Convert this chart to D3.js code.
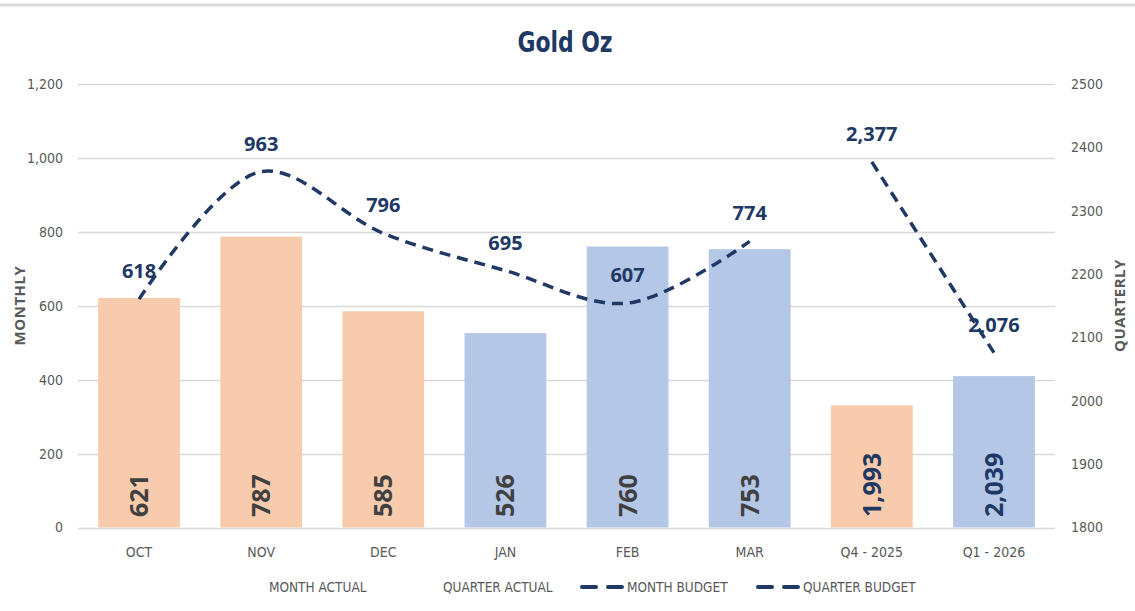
<!DOCTYPE html>
<html>
<head>
<meta charset="utf-8">
<script src="https://cdn.jsdelivr.net/npm/d3@7"></script>
<style>
  body { margin: 0; background: #fff; }
  svg { display: block; }
</style>
</head>
<body>
<div id="chart"></div>
<script>
const width = 1135
const height = 611
const margin = {top: 84, right: 80, bottom: 84, left: 78}

// data
const categories = ["OCT", "NOV", "DEC", "JAN", "FEB", "MAR", "Q4 - 2025", "Q1 - 2026"]
const quarterOf = ["Q4", "Q4", "Q4", "Q1", "Q1", "Q1", "Q4", "Q1"]
const monthActual = [621, 787, 585, 526, 760, 753]
const quarterActual = [1993, 2039]
const monthBudget = [618, 963, 796, 695, 607, 774]
const quarterBudget = [2377, 2076]
const leftTicks = [0, 200, 400, 600, 800, 1000, 1200]
const rightTicks = [1800, 1900, 2000, 2100, 2200, 2300, 2400, 2500]
const legendItems = ["MONTH ACTUAL", "QUARTER ACTUAL", "MONTH BUDGET", "QUARTER BUDGET"]

const navy = "#203864"
const axisGrey = "#595959"
const narrow = "'Liberation Sans Narrow', 'DejaVu Sans Condensed', sans-serif"

var svg = d3.select("#chart").append("svg")
	.attr("width", width)
	.attr("height", height)

// thin top border
svg.append("line")
	.attr("x1", 0).attr("x2", width)
	.attr("y1", 5).attr("y2", 5)
	.style("stroke", "#d9d9d9")
	.style("stroke-width", 3)

// title, squeezed a little to get the narrow look
svg.append("text")
	.attr("transform", "translate(565,52) scale(0.87,1)")
	.attr("text-anchor", "middle")
	.attr("font-family", narrow)
	.attr("font-weight", "bold")
	.attr("font-size", "28px")
	.attr("fill", navy)
	.text("Gold Oz")

var x = d3.scaleBand()
	.domain(categories)
	.range([margin.left, width - margin.right])
	.paddingInner(0.33)
	.paddingOuter(0.165)

var yLeft = d3.scaleLinear()
	.domain([0, 1200])
	.range([height - margin.bottom + 0.5, margin.top])

var yRight = d3.scaleLinear()
	.domain([1800, 2500])
	.range([height - margin.bottom + 0.5, margin.top])

var colour = d3.scaleOrdinal()
	.domain(["Q4", "Q1"])
	.range(["#f8cbad", "#b4c7e7"])

// gridlines from the left axis
svg.selectAll(".gridline")
	.data(leftTicks)
	.enter().append("line")
	.attr("class", "gridline")
	.attr("x1", margin.left)
	.attr("x2", width - margin.right)
	.attr("y1", d => Math.round(yLeft(d)) + 0.5)
	.attr("y2", d => Math.round(yLeft(d)) + 0.5)
	.style("stroke", "#d9d9d9")
	.style("stroke-width", "1.5px")

// axes
var leftAxis = svg.append("g")
	.attr("transform", `translate(${margin.left - 12},0)`)
	.call(d3.axisLeft(yLeft).tickValues(leftTicks).tickSize(0).tickFormat(d3.format(",")))
var rightAxis = svg.append("g")
	.attr("transform", `translate(${width - margin.right + 13},0)`)
	.call(d3.axisRight(yRight).tickValues(rightTicks).tickSize(0).tickFormat(d3.format("d")))
var bottomAxis = svg.append("g")
	.attr("transform", `translate(0,${height - margin.bottom + 17})`)
	.call(d3.axisBottom(x).tickSize(0))

;[leftAxis, rightAxis, bottomAxis].forEach(g => {
	g.select(".domain").remove()
	g.selectAll("text")
		.attr("font-family", narrow)
		.attr("font-size", "14px")
		.attr("fill", axisGrey)
})

svg.append("text")
	.attr("transform", `translate(25,${(margin.top + height - margin.bottom) / 2}) rotate(-90)`)
	.attr("text-anchor", "middle")
	.attr("font-family", "'Open Sans', sans-serif")
	.attr("font-weight", "bold")
	.attr("font-size", "15px")
	.attr("letter-spacing", "0.5px")
	.attr("fill", axisGrey)
	.text("MONTHLY")

svg.append("text")
	.attr("transform", `translate(1125,${(margin.top + height - margin.bottom) / 2}) rotate(-90)`)
	.attr("text-anchor", "middle")
	.attr("font-family", "'Open Sans', sans-serif")
	.attr("font-weight", "bold")
	.attr("font-size", "15px")
	.attr("letter-spacing", "0.5px")
	.attr("fill", axisGrey)
	.text("QUARTERLY")

// bars: months on the left scale, quarters on the right scale
var bars = monthActual.map((v, i) => ({cat: categories[i], q: quarterOf[i], v: v, y: yLeft, kind: "m"}))
	.concat(quarterActual.map((v, i) => ({cat: categories[6 + i], q: quarterOf[6 + i], v: v, y: yRight, kind: "q"})))

svg.selectAll(".bar")
	.data(bars)
	.enter().append("rect")
	.attr("class", "bar")
	.attr("x", d => x(d.cat))
	.attr("width", x.bandwidth())
	.attr("y", d => d.y(d.v))
	.attr("height", d => d.y.range()[0] - d.y(d.v))
	.style("fill", d => colour(d.q))

svg.selectAll(".barlabel")
	.data(bars)
	.enter().append("text")
	.attr("class", "barlabel")
	.attr("transform", d => `translate(${x(d.cat) + x.bandwidth() / 2 + 9},${height - margin.bottom - 10}) rotate(-90)`)
	.attr("text-anchor", "start")
	.attr("font-family", "'Open Sans', sans-serif")
	.attr("font-weight", "bold")
	.attr("font-size", "25px")
	.attr("fill", d => d.kind == "m" ? "#404040" : navy)
	.text(d => d3.format(",")(d.v))

// budget lines
var monthPts = monthBudget.map((v, i) => [x(categories[i]) + x.bandwidth() / 2, yLeft(v), v])
var quarterPts = quarterBudget.map((v, i) => [x(categories[6 + i]) + x.bandwidth() / 2, yRight(v), v])

var lineLabel = function(pts, cls) {
	svg.selectAll("." + cls)
		.data(pts)
		.enter().append("text")
		.attr("class", cls)
		.attr("x", d => d[0])
		.attr("y", d => d[1] - 21)
		.attr("text-anchor", "middle")
		.attr("font-family", "'Open Sans', sans-serif")
		.attr("font-weight", "bold")
		.attr("font-size", "20px")
		.attr("fill", navy)
		.text(d => d3.format(",")(d[2]))
}
lineLabel(monthPts, "mlabel")
lineLabel(quarterPts, "qlabel")

svg.append("path")
	.datum(monthPts)
	.attr("d", d3.line().curve(d3.curveCatmullRom.alpha(0.5)))
	.style("fill", "none")
	.style("stroke", navy)
	.style("stroke-width", 3.5)
	.style("stroke-dasharray", "11 7")

svg.append("path")
	.datum(quarterPts)
	.attr("d", d3.line())
	.style("fill", "none")
	.style("stroke", navy)
	.style("stroke-width", 3.5)
	.style("stroke-dasharray", "11 7")

// legend (the bar entries show no swatch in the original)
var legendX = [269, 443, 627, 803]
var legend = svg.selectAll(".legend")
	.data(legendItems)
	.enter().append("g")
	.attr("class", "legend")
	.attr("transform", (d, i) => `translate(${legendX[i]},592)`)

legend.append("text")
	.attr("font-family", narrow)
	.attr("font-size", "13.5px")
	.attr("fill", axisGrey)
	.text(d => d)

legend.filter((d, i) => i >= 2).append("line")
	.attr("x1", -45).attr("x2", -5)
	.attr("y1", -5).attr("y2", -5)
	.style("stroke", navy)
	.style("stroke-width", 4)
	.style("stroke-linecap", "round")
	.style("stroke-dasharray", "14 12")
</script>
</body>
</html>
